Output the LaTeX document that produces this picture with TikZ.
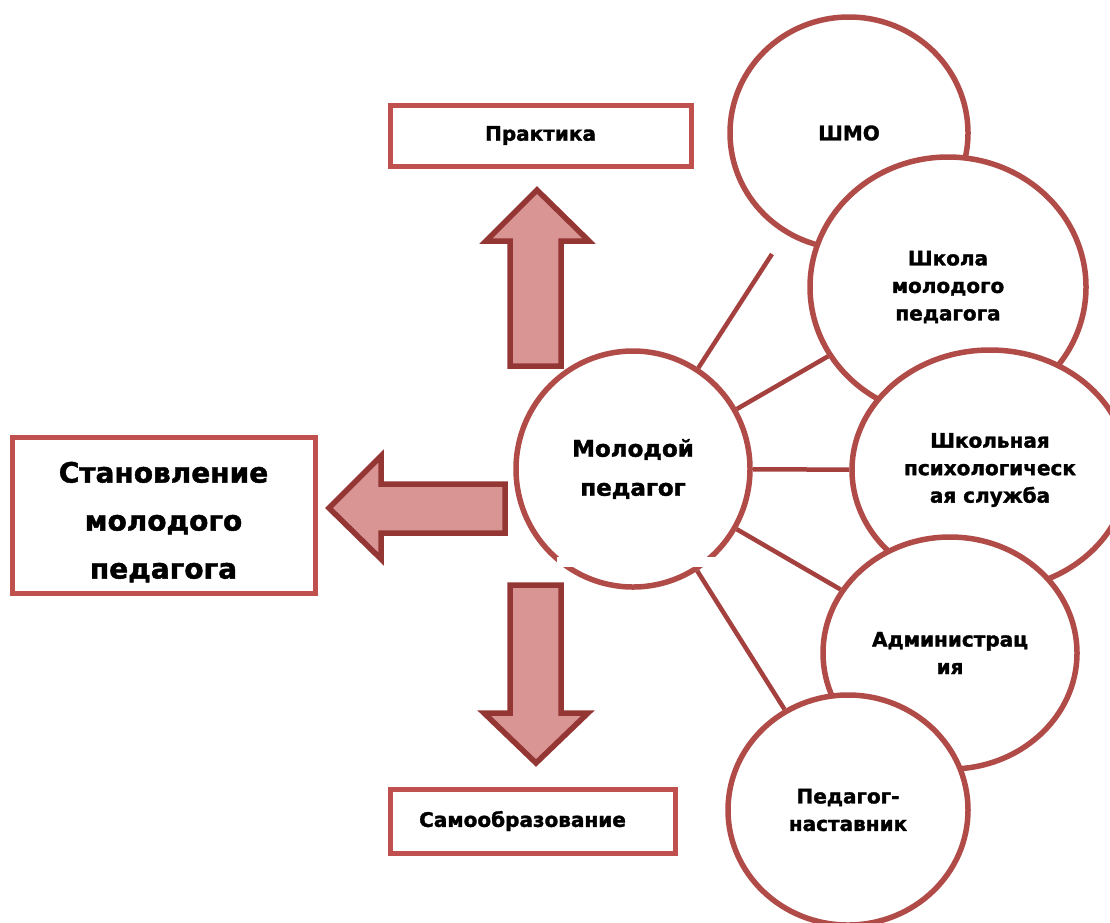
\documentclass[tikz,border=0pt]{standalone}
\usepackage{fontspec}
\setmainfont{DejaVu Sans}[BoldFeatures={FakeBold=1.6}]
\usetikzlibrary{shapes.geometric}
\definecolor{boxred}{HTML}{C0504D}
\definecolor{circred}{HTML}{B04B48}
\definecolor{spokered}{HTML}{A4403E}
\definecolor{arrfill}{HTML}{D99594}
\definecolor{arrline}{HTML}{943634}
\tikzset{
  bubble/.style={shape=ellipse, draw=circred, line width=5.5pt, fill=white, inner sep=0pt, align=center,
    font=\fontsize{20}{27.5}\selectfont\bfseries},
  tbox/.style={shape=rectangle, draw=boxred, line width=5pt, fill=white, inner sep=0pt, align=center,
    font=\fontsize{20}{27.5}\selectfont\bfseries},
  spoke/.style={draw=spokered, line width=4.5pt},
  bigarrow/.style={draw=arrline, fill=arrfill, line width=5.5pt, line join=miter}
}
\begin{document}
\begin{tikzpicture}[x=1pt,y=-1pt]
\useasboundingbox (0,0) rectangle (1110,922);
% arrows
\path[bigarrow] (510,366) -- (510,241) -- (486,241) -- (537,190) -- (589,241) -- (561,241) -- (561,366) -- cycle;
\path[bigarrow] (505,484) -- (381,484) -- (381,456) -- (329,508) -- (381,559) -- (381,533) -- (505,533) -- cycle;
\path[bigarrow] (510,585) -- (510,713) -- (484,713) -- (536,763) -- (588,713) -- (561,713) -- (561,585) -- cycle;
% boxes
\node[tbox, minimum width=301pt, minimum height=61pt] (prak) at (540.5,135.5) {Практика};
\node[tbox, minimum width=285pt, minimum height=64pt] (samo) at (532.5,821) {Самообразование\hspace*{20pt}};
\node[tbox, minimum width=303pt, minimum height=156pt, font=\fontsize{28}{48}\selectfont\bfseries] (stan) at (163.5,515) {\rule{0pt}{35pt}Становление\\молодого\\педагога};
% right bubbles
\node[bubble, minimum width=238pt, minimum height=232pt] (shmo) at (849,133) {ШМО};
\node[bubble, minimum width=276pt, minimum height=260pt] (shkola) at (948,287) {Школа\\молодого\\педагога};
\node[bubble, minimum width=276pt, minimum height=240pt] (psy) at (990,470) {Школьная\\психологическ\\ая служба};
\node[bubble, minimum width=254pt, minimum height=232pt] (adm) at (950,653) {Администрац\\ия};
\node[bubble, minimum width=240pt, minimum height=230pt] (nast) at (848,810) {Педагог-\\наставник};
% centre
\node[bubble, minimum width=234pt, minimum height=236pt, font=\fontsize{23}{39}\selectfont\bfseries] (mol) at (633,469) {Молодой\\педагог};
\coordinate (free) at (772,254);
% spokes
\draw[spoke] (mol) -- (free);
\draw[spoke] (mol) -- (shkola);
\draw[spoke] (mol) -- (psy);
\draw[spoke] (mol) -- (adm);
\draw[spoke] (mol) -- (nast);
% white patch over the bottom of the centre circle
\fill[white] (557,557) rectangle (720,567);
\end{tikzpicture}
\end{document}
